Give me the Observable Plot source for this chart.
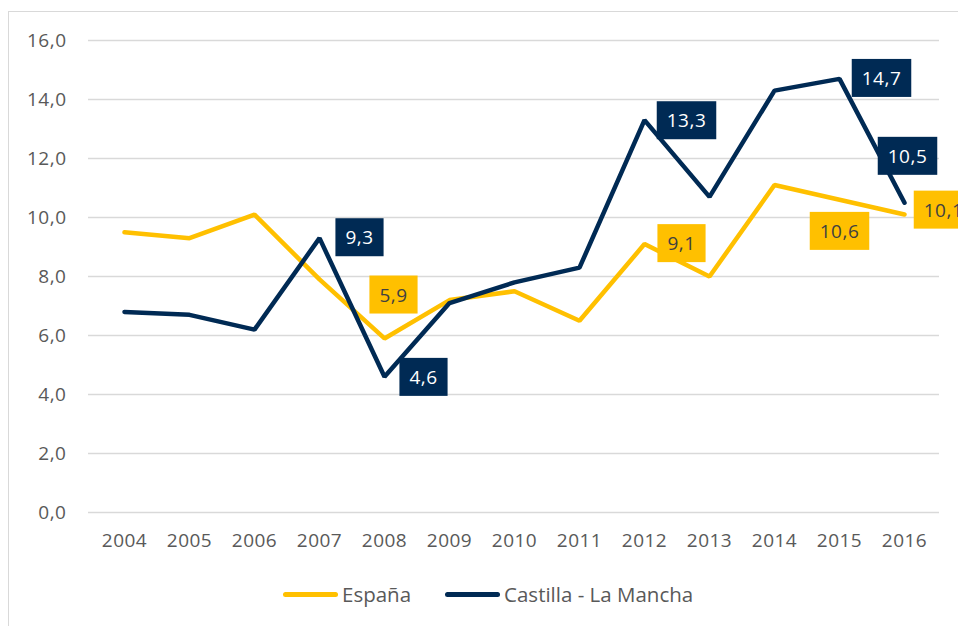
<!DOCTYPE html>
<html>
<head>
<meta charset="utf-8">
<script src="https://cdn.jsdelivr.net/npm/d3@7"></script>
<script src="https://cdn.jsdelivr.net/npm/@observablehq/plot@0.6"></script>
<style>
  html, body { margin: 0; padding: 0; background: #fff; overflow: hidden; }
  body { width: 958px; height: 626px; position: relative; font-family: "Open Sans", sans-serif; }
  #frame { position: absolute; left: 8px; top: 11px; width: 1100px; height: 800px; border: 1.5px solid #d9d9d9; box-sizing: border-box; }
  #chart { position: absolute; left: 0; top: 0; }
  #legend { position: absolute; top: 580px; left: 283px; display: flex; align-items: center; font-size: 20.5px; color: #595959; }
  .sw { width: 55px; height: 5px; border-radius: 3px; margin-right: 4px; }
  .item { display: flex; align-items: center; margin-right: 34px; }
</style>
</head>
<body>
<div id="frame"></div>
<div id="chart"></div>
<div id="legend"></div>
<script>
const years = [2004, 2005, 2006, 2007, 2008, 2009, 2010, 2011, 2012, 2013, 2014, 2015, 2016];
const espana = [9.5, 9.3, 10.1, 7.9, 5.9, 7.2, 7.5, 6.5, 9.1, 8.0, 11.1, 10.6, 10.1];
const castilla = [6.8, 6.7, 6.2, 9.3, 4.6, 7.1, 7.8, 8.3, 13.3, 10.7, 14.3, 14.7, 10.5];
const seriesNames = ["España", "Castilla - La Mancha"];
const yTicks = [0, 2, 4, 6, 8, 10, 12, 14, 16];
const labeledEspana = [2008, 2012, 2015, 2016];
const labeledCastilla = [2007, 2008, 2012, 2015, 2016];

const colors = { "España": "#FFC000", "Castilla - La Mancha": "#002A54" };
const textColors = { "España": "#404040", "Castilla - La Mancha": "#ffffff" };
// label offsets (pixels) from the data point
const placement = {
  "España-2008": [9, -43], "España-2012": [37, 0], "España-2015": [0, 32], "España-2016": [39, -4],
  "Castilla - La Mancha-2007": [40, 0], "Castilla - La Mancha-2008": [39, 1],
  "Castilla - La Mancha-2012": [42, 1], "Castilla - La Mancha-2015": [42, 0], "Castilla - La Mancha-2016": [3, -46]
};

const rows = [];
years.forEach((y, i) => {
  rows.push({ series: seriesNames[0], year: String(y), value: espana[i] });
  rows.push({ series: seriesNames[1], year: String(y), value: castilla[i] });
});
const fmt = d => d.toFixed(1).replace(".", ",");

const labelRows = rows.filter(r =>
  (r.series === seriesNames[0] && labeledEspana.includes(+r.year)) ||
  (r.series === seriesNames[1] && labeledCastilla.includes(+r.year)));

const labelMarks = labelRows.map(r => {
  const [dx, dy] = placement[r.series + "-" + r.year];
  return Plot.text([r], {
    x: "year", y: "value", text: d => fmt(d.value), dx, dy,
    fill: textColors[r.series], fontSize: 19, lineAnchor: "middle",
    ariaDescription: "vlabel"
  });
});

const plot = Plot.plot({
  width: 958,
  height: 570,
  marginLeft: 88,
  marginRight: 19,
  marginTop: 40,
  marginBottom: 58,
  style: { fontFamily: "Open Sans, sans-serif", fontSize: "19px", letterSpacing: "0.5px", color: "#595959", background: "transparent" },
  x: { type: "point", domain: years.map(String), padding: 0.5, label: null, tickSize: 0, tickPadding: 21 },
  y: { domain: [0, 16], ticks: yTicks, tickFormat: fmt, label: null, tickSize: 0, tickPadding: 22 },
  marks: [
    Plot.ruleY(yTicks, { stroke: "#d9d9d9", strokeWidth: 1.5 }),
    ...seriesNames.map(s => Plot.line(rows.filter(r => r.series === s), {
      x: "year", y: "value", stroke: colors[s], strokeWidth: 4.5,
      strokeLinejoin: "miter", strokeLinecap: "round"
    })),
    ...labelMarks
  ]
});
document.getElementById("chart").appendChild(plot);

// background boxes behind value labels
const groups = plot.querySelectorAll('g[aria-description="vlabel"]');
groups.forEach((g, i) => {
  const r = labelRows[i];
  g.querySelectorAll("text").forEach(t => {
    const bb = t.getBBox();
    const rect = document.createElementNS("http://www.w3.org/2000/svg", "rect");
    const w = bb.width + 20, h = 38;
    rect.setAttribute("x", bb.x + bb.width / 2 - w / 2);
    rect.setAttribute("y", bb.y + bb.height / 2 - h / 2);
    rect.setAttribute("width", w);
    rect.setAttribute("height", h);
    rect.setAttribute("fill", colors[r.series]);
    if (t.getAttribute("transform")) rect.setAttribute("transform", t.getAttribute("transform"));
    g.insertBefore(rect, t);
  });
});

// legend
const legend = document.getElementById("legend");
seriesNames.forEach(s => {
  const item = document.createElement("div");
  item.className = "item";
  const sw = document.createElement("div");
  sw.className = "sw";
  sw.style.background = colors[s];
  const lab = document.createElement("span");
  lab.textContent = s;
  item.appendChild(sw);
  item.appendChild(lab);
  legend.appendChild(item);
});
</script>
</body>
</html>
